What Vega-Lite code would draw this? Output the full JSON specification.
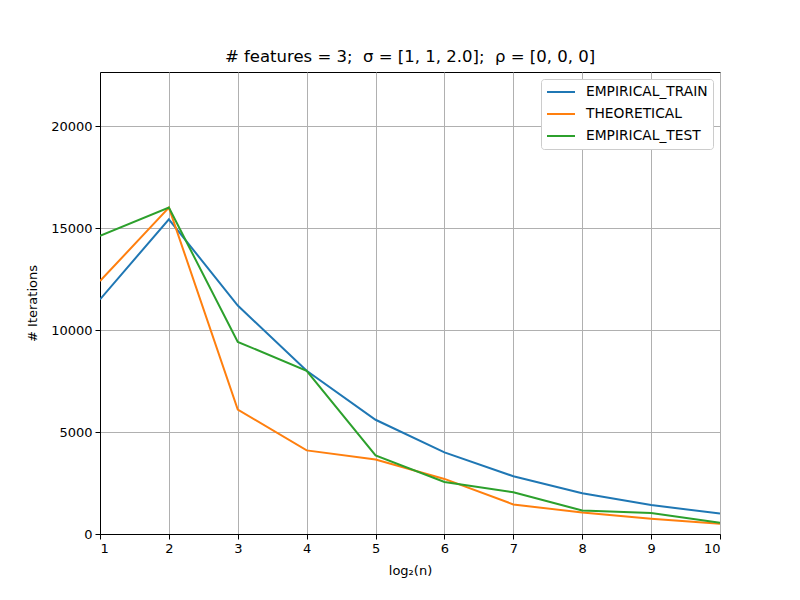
{
  "$schema": "https://vega.github.io/schema/vega-lite/v6.json",
  "autosize": "none",
  "width": 620,
  "height": 462,
  "padding": {"left": 100, "top": 72, "right": 80, "bottom": 66},
  "background": "white",
  "config": {
    "font": "DejaVu Sans",
    "view": {"stroke": "black", "strokeWidth": 1}
  },
  "title": {
    "text": "# features = 3;\u00a0 σ = [1, 1, 2.0];\u00a0 ρ = [0, 0, 0]",
    "font": "DejaVu Sans",
    "fontSize": 16.5,
    "fontWeight": "normal",
    "color": "black",
    "offset": 7,
    "anchor": "middle"
  },
  "data": {
    "values": [
      {"n": 1, "series": "EMPIRICAL_TRAIN", "value": 11500},
      {"n": 2, "series": "EMPIRICAL_TRAIN", "value": 15430},
      {"n": 3, "series": "EMPIRICAL_TRAIN", "value": 11200},
      {"n": 4, "series": "EMPIRICAL_TRAIN", "value": 8000},
      {"n": 5, "series": "EMPIRICAL_TRAIN", "value": 5600},
      {"n": 6, "series": "EMPIRICAL_TRAIN", "value": 4000},
      {"n": 7, "series": "EMPIRICAL_TRAIN", "value": 2830},
      {"n": 8, "series": "EMPIRICAL_TRAIN", "value": 2000},
      {"n": 9, "series": "EMPIRICAL_TRAIN", "value": 1420},
      {"n": 10, "series": "EMPIRICAL_TRAIN", "value": 1000},
      {"n": 1, "series": "THEORETICAL", "value": 12400},
      {"n": 2, "series": "THEORETICAL", "value": 16000},
      {"n": 3, "series": "THEORETICAL", "value": 6100},
      {"n": 4, "series": "THEORETICAL", "value": 4100},
      {"n": 5, "series": "THEORETICAL", "value": 3650},
      {"n": 6, "series": "THEORETICAL", "value": 2700},
      {"n": 7, "series": "THEORETICAL", "value": 1450},
      {"n": 8, "series": "THEORETICAL", "value": 1050},
      {"n": 9, "series": "THEORETICAL", "value": 750},
      {"n": 10, "series": "THEORETICAL", "value": 500},
      {"n": 1, "series": "EMPIRICAL_TEST", "value": 14620},
      {"n": 2, "series": "EMPIRICAL_TEST", "value": 16000},
      {"n": 3, "series": "EMPIRICAL_TEST", "value": 9420},
      {"n": 4, "series": "EMPIRICAL_TEST", "value": 8000},
      {"n": 5, "series": "EMPIRICAL_TEST", "value": 3850},
      {"n": 6, "series": "EMPIRICAL_TEST", "value": 2550},
      {"n": 7, "series": "EMPIRICAL_TEST", "value": 2050},
      {"n": 8, "series": "EMPIRICAL_TEST", "value": 1150},
      {"n": 9, "series": "EMPIRICAL_TEST", "value": 1030},
      {"n": 10, "series": "EMPIRICAL_TEST", "value": 550}
    ]
  },
  "mark": {"type": "line", "strokeWidth": 2, "clip": true},
  "encoding": {
    "x": {
      "field": "n",
      "type": "quantitative",
      "scale": {"domain": [1, 10], "nice": false, "zero": false},
      "axis": {
        "title": "log₂(n)",
        "values": [1, 2, 3, 4, 5, 6, 7, 8, 9, 10],
        "format": "d",
        "grid": true,
        "gridColor": "#b0b0b0",
        "gridWidth": 1,
        "gridOpacity": 1,
        "domainColor": "black",
        "tickColor": "black",
        "tickSize": 5,
        "labelFontSize": 13,
        "labelColor": "black",
        "labelPadding": 3,
        "titleFontSize": 13,
        "titleFontWeight": "normal",
        "titleColor": "black",
        "titlePadding": 9
      }
    },
    "y": {
      "field": "value",
      "type": "quantitative",
      "scale": {"domain": [0, 22650], "nice": false},
      "axis": {
        "title": "# Iterations",
        "values": [0, 5000, 10000, 15000, 20000],
        "format": "d",
        "grid": true,
        "gridColor": "#b0b0b0",
        "gridWidth": 1,
        "gridOpacity": 1,
        "domainColor": "black",
        "tickColor": "black",
        "tickSize": 5,
        "labelFontSize": 13,
        "labelColor": "black",
        "labelPadding": 3,
        "titleFontSize": 13,
        "titleFontWeight": "normal",
        "titleColor": "black",
        "titlePadding": 11
      }
    },
    "color": {
      "field": "series",
      "type": "nominal",
      "sort": null,
      "scale": {
        "domain": ["EMPIRICAL_TRAIN", "THEORETICAL", "EMPIRICAL_TEST"],
        "range": ["#1f77b4", "#ff7f0e", "#2ca02c"]
      },
      "legend": {
        "title": null,
        "orient": "none",
        "legendX": 441,
        "legendY": 7,
        "symbolType": "stroke",
        "symbolSize": 784,
        "symbolStrokeWidth": 2,
        "clipHeight": 16,
        "labelFontSize": 13.8,
        "labelColor": "black",
        "labelOffset": 10,
        "rowPadding": 6,
        "padding": 5,
        "fillColor": "white",
        "strokeColor": "#cccccc",
        "cornerRadius": 3
      }
    }
  }
}
